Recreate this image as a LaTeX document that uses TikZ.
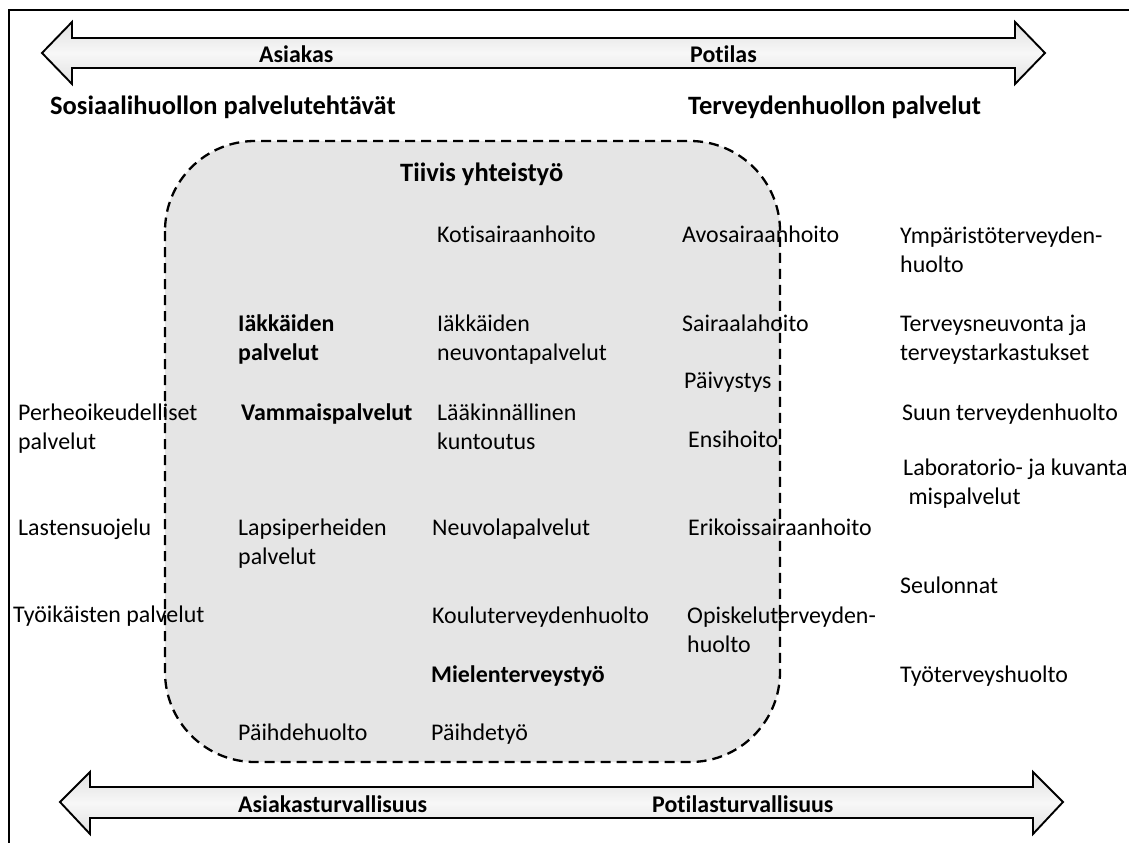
\documentclass[tikz,border=0pt]{standalone}
\usepackage{fontspec}
\setmainfont[Ligatures={TeX,NoCommon}]{Carlito}
\begin{document}
\begin{tikzpicture}[x=1pt,y=-1pt,
  lbl/.style={anchor=base west, inner sep=0pt, align=left, font=\fontsize{23.9}{29}\selectfont},
  bl/.style={lbl, font=\fontsize{23.9}{29}\selectfont\bfseries},
  heading/.style={lbl, font=\fontsize{26.5}{32}\selectfont\bfseries},
  bigarrow/.style={draw=black, line width=1.9pt, line join=miter,
    top color=gray!24, bottom color=gray!24, middle color=gray!6},
  groupbox/.style={draw=black, line width=2.3pt, dash pattern=on 10pt off 6pt,
    fill=black!10, rounded corners=90pt}]
\useasboundingbox (0,0) rectangle (1129,843);

% frame lines (top and left)
\draw[line width=2.4pt] (1129,10) -- (9,10) -- (9,843);

% top double arrow
\path[bigarrow] (42,53) -- (72,22) -- (72,38) -- (1015,38) -- (1015,22) -- (1045,53)
  -- (1015,84) -- (1015,68) -- (72,68) -- (72,84) -- cycle;
% bottom double arrow
\path[bigarrow] (60,802) -- (90,772) -- (90,787) -- (1033,787) -- (1033,772) -- (1063,802)
  -- (1033,834) -- (1033,818) -- (90,818) -- (90,834) -- cycle;

\node[bl] (asiakas) at (259,63) {Asiakas};
\node[bl] (potilas) at (690,63) {Potilas};
\node[bl] (asturv) at (238,812) {Asiakasturvallisuus};
\node[bl] (potturv) at (652,812) {Potilasturvallisuus};

\node[heading] (sos) at (50,114) {Sosiaalihuollon palvelutehtävät};
\node[heading] (terv) at (688,114) {Terveydenhuollon palvelut};

% shared area of close cooperation
\path[groupbox] (165,141) rectangle (780,762);

\node[heading] (tiivis) at (400,181) {Tiivis yhteistyö};

% two-line labels are placed by the baseline of their last line

% social services column
\node[bl] (iakpal) at (238,360) {Iäkkäiden\\palvelut};
\node[bl] (vamm) at (241,420) {Vammaispalvelut};
\node[lbl] (lapsip) at (238,564) {Lapsiperheiden\\palvelut};
\node[lbl] (paihdeh) at (238,740) {Päihdehuolto};

% outer social services
\node[lbl] (perhe) at (18,449) {Perheoikeudelliset\\palvelut};
\node[lbl] (lasten) at (18,535) {Lastensuojelu};
\node[lbl] (tyoik) at (13,622) {Työikäisten palvelut};

% shared services column
\node[lbl] (koti) at (437,242) {Kotisairaanhoito};
\node[lbl] (iakneu) at (437,360) {Iäkkäiden\\neuvontapalvelut};
\node[lbl] (laak) at (437,449) {Lääkinnällinen\\kuntoutus};
\node[lbl] (neuvola) at (432,535) {Neuvolapalvelut};
\node[lbl] (koulu) at (432,623) {Kouluterveydenhuolto};
\node[bl] (miel) at (431,682) {Mielenterveystyö};
\node[lbl] (paihdet) at (431,740) {Päihdetyö};

% health services column
\node[lbl] (avo) at (682,242) {Avosairaanhoito};
\node[lbl] (sair) at (682,331) {Sairaalahoito};
\node[lbl] (paiv) at (684,388) {Päivystys};
\node[lbl] (ensi) at (688,447) {Ensihoito};
\node[lbl] (erik) at (688,535) {Erikoissairaanhoito};
\node[lbl] (opisk) at (687,652) {Opiskeluterveyden-\\huolto};

% outer health services
\node[lbl] (ymp) at (900,272) {Ympäristöterveyden-\\huolto};
\node[lbl] (tneuv) at (900,360) {Terveysneuvonta ja\\terveystarkastukset};
\node[lbl] (suun) at (902,420) {Suun terveydenhuolto};
\node[lbl] (lab) at (903,504) {Laboratorio- ja kuvanta\\\ mispalvelut};
\node[lbl] (seul) at (900,593) {Seulonnat};
\node[lbl] (tyoth) at (900,682) {Työterveyshuolto};
\end{tikzpicture}
\end{document}
